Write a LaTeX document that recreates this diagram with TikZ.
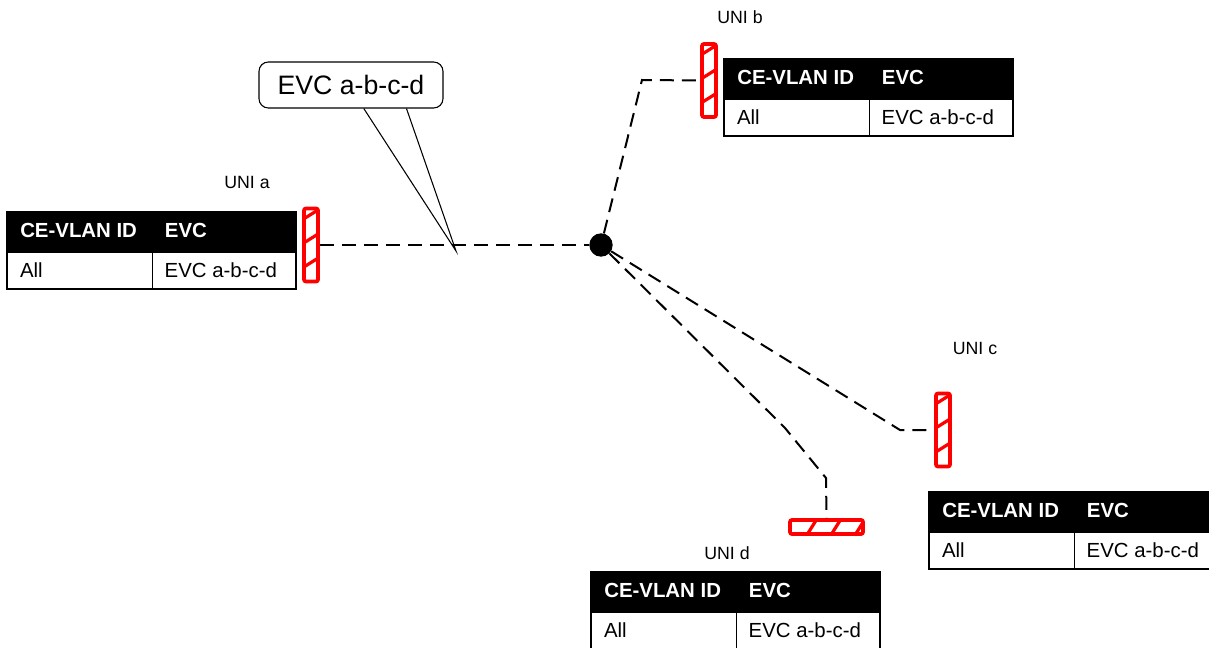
\documentclass[tikz,border=0pt]{standalone}
\usepackage{fontspec}
\setmainfont{Liberation Sans}
\usetikzlibrary{calc}
\tikzset{
  thead/.style={fill=black, draw=black, line width=1.2pt, minimum width=216.75pt, minimum height=28.5pt, inner sep=0pt},
  tbody/.style={fill=white, draw=black, line width=1.5pt, minimum width=216.75pt, minimum height=28pt, inner sep=0pt},
  htext/.style={text=white, font=\fontsize{15.3pt}{17pt}\selectfont\bfseries, inner sep=0pt, anchor=west},
  btext/.style={text=black, font=\fontsize{15.3pt}{17pt}\selectfont, inner sep=0pt, anchor=west},
  unilabel/.style={font=\fontsize{13.3pt}{15pt}\selectfont, inner sep=0pt},
  link/.style={dashed, dash pattern=on 10.5pt off 6pt, line width=1.5pt},
  stripe/.style={red, line width=2.4pt},
  uniV/.style={draw=red, fill=white, line width=2.8pt, rounded corners=1.5pt, minimum width=10.5pt, minimum height=54.75pt, inner sep=0pt,
    path picture={
      \foreach \f in {0.14,0.47,0.80}{
        \draw[stripe] ($(path picture bounding box.north west)!\f!(path picture bounding box.south west)$) --
                      ($(path picture bounding box.north east)!\f-0.12!(path picture bounding box.south east)$);
      }}},
  uniH/.style={draw=red, fill=white, line width=2.8pt, rounded corners=1.5pt, minimum width=54.75pt, minimum height=10.5pt, inner sep=0pt,
    path picture={
      \foreach \f in {0.24,0.57,0.90}{
        \draw[stripe] ($(path picture bounding box.south west)!\f!(path picture bounding box.south east)$) --
                      ($(path picture bounding box.north west)!\f+0.12!(path picture bounding box.north east)$);
      }}},
  callout/.style={draw=black, fill=white, line width=0.8pt, rounded corners=7pt, minimum width=138pt, minimum height=34.5pt, inner sep=0pt, font=\fontsize{20pt}{24pt}\selectfont},
  hub/.style={circle, fill=black, minimum size=17.5pt, inner sep=0pt},
}
\newcommand\evctable[3]{%
  \node[thead, anchor=north west] (#1) at (#2,#3) {};
  \node[tbody, anchor=north] (#1b) at (#1.south) {};
  \draw[line width=0.8pt] ([xshift=110.25pt]#1b.north west) -- ([xshift=110.25pt]#1b.south west);
  \node[htext] (#1t1) at ([xshift=10.5pt]#1.west) {CE-VLAN ID};
  \node[htext] (#1t2) at ([xshift=119pt]#1.west) {EVC};
  \node[btext] (#1t3) at ([xshift=10.5pt]#1b.west) {All};
  \node[btext] (#1t4) at ([xshift=119pt]#1b.west) {EVC a-b-c-d};
}
\begin{document}
\begin{tikzpicture}[x=0.75pt,y=-0.75pt]
  \useasboundingbox[fill=white] (0,0) rectangle (1209,648);

  % tables
  \evctable{ta}{6}{211}
  \evctable{tb}{723}{58}
  \evctable{tc}{928}{491}
  \evctable{td}{590}{571}

  % UNI markers
  \node[uniV] (ua) at (311,245) {};
  \node[uniV] (ub) at (709,80.5) {};
  \node[uniV] (uc) at (943,430) {};
  \node[uniH] (ud) at (826.5,527) {};

  % labels
  \node[unilabel] (la) at (247,182) {UNI a};
  \node[unilabel] (lb) at (740,17) {UNI b};
  \node[unilabel] (lc) at (975,348) {UNI c};
  \node[unilabel] (ld) at (727,553) {UNI d};

  % hub
  \node[hub] (hub) at (601,245) {};

  % links
  \coordinate (kb) at (642,80);
  \coordinate (kc) at (900,430);
  \coordinate (kd1) at (785,428);
  \coordinate (kd2) at (826,478);
  \draw[link] (ua.east) -- (hub);
  \draw[link] (hub) -- (kb) -- (ub.west);
  \draw[link] (hub) -- (kc) -- (uc.west);
  \draw[link] (hub) -- (kd1) -- (kd2) -- (ud.north);

  % callout
  \coordinate (tip) at (456,251);
  \node[callout] (co) at (351,85) {EVC a-b-c-d};
  \draw[line width=0.8pt] ([xshift=79pt]co.south west) -- (tip) -- ([xshift=111pt]co.south west);
\end{tikzpicture}
\end{document}
